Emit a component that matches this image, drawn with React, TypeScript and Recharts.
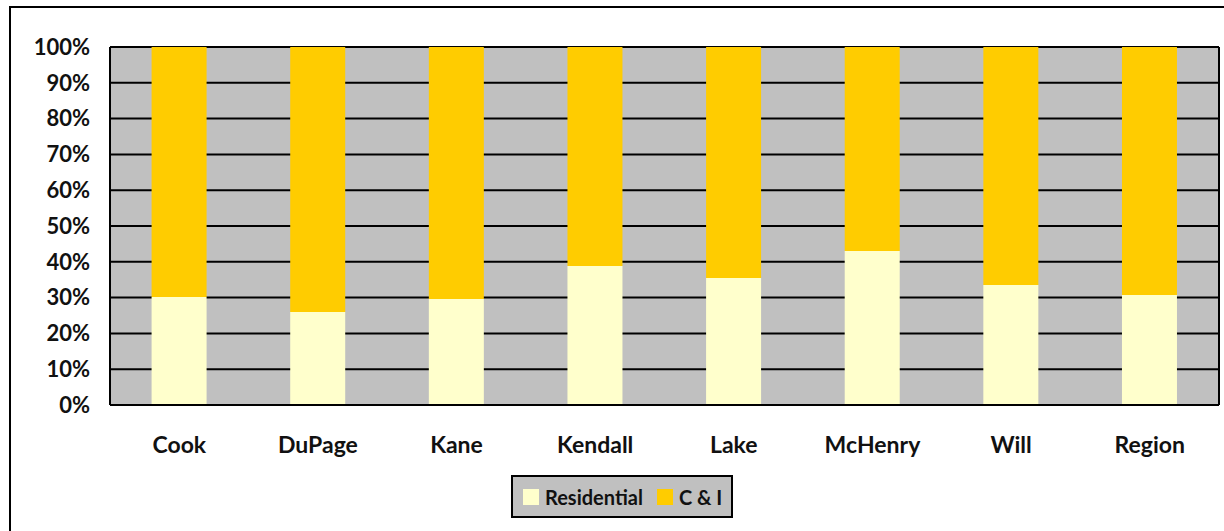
import { BarChart, Bar, XAxis, YAxis, CartesianGrid } from 'recharts'

// ── Data ───────────────────────────────────────────────────
const counties    = ['Cook', 'DuPage', 'Kane', 'Kendall', 'Lake', 'McHenry', 'Will', 'Region']
const residential = [30.2, 26.0, 29.6, 38.8, 35.5, 43.0, 33.5, 30.7]
const commercial  = [69.8, 74.0, 70.4, 61.2, 64.5, 57.0, 66.5, 69.3]
const yTicks      = [0, 10, 20, 30, 40, 50, 60, 70, 80, 90, 100]

const RES_COLOR = '#FFFFCC'
const CI_COLOR  = '#FFCC00'
const FONT      = 'Lato, "Open Sans", sans-serif'

const data = counties.map((name, i) => ({
  name,
  res: residential[i],
  ci:  commercial[i],
}))

// legend drawn as plain html so it doesn't eat into the plot area
function LegendBox() {
  const item = (color: string, label: string) => (
    <div style={{ display: 'flex', alignItems: 'center', marginRight: 14 }}>
      <div style={{ width: 16, height: 16, background: color, marginRight: 6 }} />
      <span>{label}</span>
    </div>
  )
  return (
    <div
      style={{
        position: 'absolute',
        left: 500,
        top: 467,
        width: 208,
        height: 39,
        border: '2px solid #000',
        background: '#C0C0C0',
        display: 'flex',
        alignItems: 'center',
        paddingLeft: 10,
        boxSizing: 'content-box',
        fontFamily: FONT,
        fontWeight: 700,
        fontSize: 20,
        color: '#111',
        whiteSpace: 'nowrap',
      }}
    >
      {item(RES_COLOR, 'Residential')}
      {item(CI_COLOR, 'C & I')}
    </div>
  )
}

export default function App() {
  // fixed so the frame can run off the right/bottom edge without scrollbars
  return (
    <div
      style={{
        position: 'fixed',
        left: 9,
        top: 6,
        width: 1213,
        height: 523,
        borderTop: '2px solid #000',
        borderLeft: '2px solid #000',
        background: '#fff',
        overflow: 'hidden',
      }}
    >
      <BarChart
        width={1213}
        height={523}
        data={data}
        barCategoryGap="30%"
        margin={{ top: 39, right: 4, bottom: 0, left: 0 }}
      >
        <CartesianGrid
          vertical={false}
          fill="#C0C0C0"
          fillOpacity={1}
          stroke="#000"
          strokeWidth={2}
        />
        <XAxis
          dataKey="name"
          height={126}
          axisLine={{ stroke: '#000', strokeWidth: 2 }}
          tickLine={false}
          tickSize={0}
          tickMargin={32}
          tick={{ fontSize: 23, fontWeight: 700, fill: '#111', fontFamily: FONT }}
        />
        <YAxis
          width={99}
          domain={[0, 100]}
          ticks={yTicks}
          interval={0}
          tickFormatter={(v) => `${v}%`}
          axisLine={{ stroke: '#000', strokeWidth: 2 }}
          tickLine={false}
          tickSize={0}
          tickMargin={20}
          tick={{ fontSize: 22, fontWeight: 700, fill: '#111', fontFamily: FONT }}
        />
        <YAxis
          yAxisId="right"
          orientation="right"
          width={1}
          domain={[0, 100]}
          tick={false}
          tickLine={false}
          axisLine={{ stroke: '#000', strokeWidth: 2 }}
        />
        <Bar dataKey="res" stackId="a" fill={RES_COLOR} isAnimationActive={false} />
        <Bar dataKey="ci" stackId="a" fill={CI_COLOR} isAnimationActive={false} />
      </BarChart>
      <LegendBox />
    </div>
  )
}
